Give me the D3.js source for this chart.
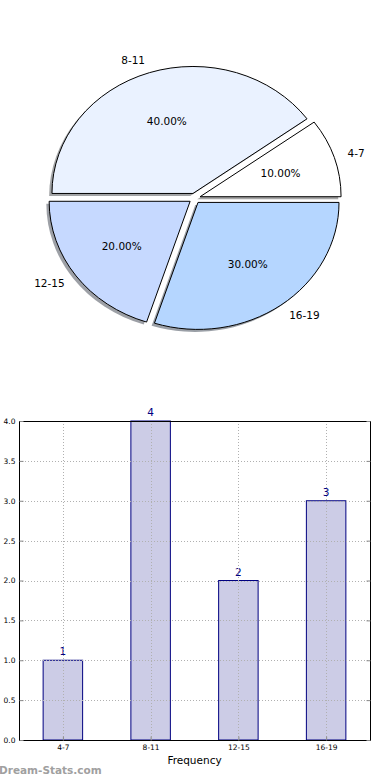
<!DOCTYPE html>
<html>
<head>
<meta charset="utf-8">
<script src="https://cdn.jsdelivr.net/npm/d3@7"></script>
<style>
  html, body { margin: 0; padding: 0; background: #fff; }
  svg { display: block; font-family: "DejaVu Sans", sans-serif; }
</style>
</head>
<body>
<div id="chart"></div>
<script>
// data
var categories = ['4-7', '8-11', '12-15', '16-19'];
var counts = [1, 4, 2, 3];
var sliceColors = ['#ffffff', '#eaf2ff', '#c6d9ff', '#b5d6ff'];
var yTicks = [0, 0.5, 1, 1.5, 2, 2.5, 3, 3.5, 4];

var W = 390, H = 780;
var svg = d3.select('#chart').append('svg').attr('width', W).attr('height', H);

// ---- pie (elliptic, like a non-equal-aspect matplotlib pie) ----
var cx = 194.7, cy = 198.3, rx = 141, ry = 127, explode = 0.04;
var total = d3.sum(counts);

var pie = d3.pie().sort(null).value(function(d){ return d; })
    .startAngle(Math.PI / 2).endAngle(Math.PI / 2 - 2 * Math.PI);
var arcs = pie(counts);
var arc = d3.arc().innerRadius(0).outerRadius(rx);

function mid(d){ return (d.startAngle + d.endAngle) / 2; }
// point on the ellipse (scaled by k) for a d3 angle
function px(a, k){ return k * rx * Math.sin(a); }
function py(a, k){ return -k * ry * Math.cos(a); }

var pieG = svg.append('g').attr('transform', 'translate(' + cx + ',' + cy + ')');

// shadows under everything
pieG.selectAll('path.shadow').data(arcs).enter().append('path')
    .attr('class', 'shadow')
    .attr('transform', function(d){
        var a = mid(d);
        return 'translate(' + (px(a, explode) - 2.8) + ',' + (py(a, explode) + 2.5) + ') scale(1,' + (ry / rx) + ')';
    })
    .attr('d', arc)
    .attr('fill', function(d, i){
        var c = d3.rgb(sliceColors[i]);
        return d3.rgb(c.r * 0.3, c.g * 0.3, c.b * 0.3);
    })
    .attr('fill-opacity', 0.5);

pieG.selectAll('path.slice').data(arcs).enter().append('path')
    .attr('class', 'slice')
    .attr('transform', function(d){
        var a = mid(d);
        return 'translate(' + px(a, explode) + ',' + py(a, explode) + ') scale(1,' + (ry / rx) + ')';
    })
    .attr('d', arc)
    .attr('fill', function(d, i){ return sliceColors[i]; })
    .attr('stroke', '#000')
    .attr('stroke-width', 1)
    .attr('vector-effect', 'non-scaling-stroke');

// category labels
pieG.selectAll('text.lab').data(arcs).enter().append('text')
    .attr('class', 'lab')
    .attr('x', function(d){ var a = mid(d); return px(a, 1.1) + px(a, explode); })
    .attr('y', function(d){ var a = mid(d); return py(a, 1.1) + py(a, explode); })
    .attr('dy', '0.35em')
    .attr('text-anchor', function(d){ return Math.sin(mid(d)) > 0 ? 'start' : 'end'; })
    .attr('font-size', 10.5)
    .text(function(d, i){ return categories[i]; });

// percentages
pieG.selectAll('text.pct').data(arcs).enter().append('text')
    .attr('class', 'pct')
    .attr('x', function(d){ var a = mid(d); return px(a, 0.6) + px(a, explode); })
    .attr('y', function(d){ var a = mid(d); return py(a, 0.6) + py(a, explode); })
    .attr('dy', '0.35em')
    .attr('text-anchor', 'middle')
    .attr('font-size', 10.5)
    .text(function(d){ return (d.value / total * 100).toFixed(2) + '%'; });

// ---- bar chart ----
var bLeft = 19, bRight = 370, bTop = 421, bBottom = 740;
var x = d3.scalePoint().domain(categories).range([bLeft, bRight]).padding(0.5);
var bw = x.step() * 0.45;
var y = d3.scaleLinear().domain([0, 4]).range([bBottom, bTop]);

var bars = svg.append('g');
bars.selectAll('rect').data(counts).enter().append('rect')
    .attr('x', function(d, i){ return x(categories[i]) - bw / 2; })
    .attr('y', function(d){ return y(d); })
    .attr('width', bw)
    .attr('height', function(d){ return bBottom - y(d); })
    .attr('fill', '#ccccE6')
    .attr('stroke', '#000080')
    .attr('stroke-width', 1);

bars.selectAll('text').data(counts).enter().append('text')
    .attr('x', function(d, i){ return x(categories[i]); })
    .attr('y', function(d){ return y(d) - 5; })
    .attr('text-anchor', 'middle')
    .attr('font-size', 10.5)
    .attr('fill', '#000080')
    .text(function(d){ return d; });

// grid (drawn on top, dotted)
var grid = svg.append('g').attr('stroke', '#b0b0b0').attr('stroke-dasharray', '1,2').attr('stroke-width', 1);
grid.selectAll('line.h').data(yTicks).enter().append('line')
    .attr('x1', bLeft).attr('x2', bRight)
    .attr('y1', function(d){ return Math.round(y(d)) + 0.5; })
    .attr('y2', function(d){ return Math.round(y(d)) + 0.5; });
grid.selectAll('line.v').data(categories).enter().append('line')
    .attr('y1', bTop).attr('y2', bBottom)
    .attr('x1', function(d){ return Math.round(x(d)) + 0.5; })
    .attr('x2', function(d){ return Math.round(x(d)) + 0.5; });

// frame
svg.append('rect')
    .attr('x', bLeft + 0.5).attr('y', bTop + 0.5)
    .attr('width', bRight - bLeft).attr('height', bBottom - bTop)
    .attr('fill', 'none').attr('stroke', '#000').attr('stroke-width', 1);

// axes
var yAxis = d3.axisLeft(y).tickValues(yTicks).tickSize(-4).tickPadding(4)
    .tickFormat(d3.format('.1f'));
var yg = svg.append('g').attr('transform', 'translate(' + (bLeft + 0.5) + ',0)').call(yAxis);
var xAxis = d3.axisBottom(x).tickSize(-4).tickPadding(4);
var xg = svg.append('g').attr('transform', 'translate(0,' + (bBottom + 0.5) + ')').call(xAxis);
[yg, xg].forEach(function(g){
    g.select('.domain').remove();
    g.selectAll('line').attr('stroke', '#888');
    g.selectAll('text').attr('font-size', 7.5).attr('font-family', '"DejaVu Sans", sans-serif').attr('fill', '#000');
});
// inward ticks on the right side too
svg.append('g').selectAll('line').data(yTicks).enter().append('line')
    .attr('x1', bRight + 0.5).attr('x2', bRight - 3.5)
    .attr('y1', function(d){ return y(d) + 0.5; })
    .attr('y2', function(d){ return y(d) + 0.5; })
    .attr('stroke', '#888');

svg.append('text')
    .attr('x', (bLeft + bRight) / 2).attr('y', 764)
    .attr('text-anchor', 'middle')
    .attr('font-size', 10.5)
    .text('Frequency');

// watermark
svg.append('text')
    .attr('x', -1).attr('y', 774)
    .attr('font-size', 10.5)
    .attr('font-weight', 'bold')
    .attr('fill', '#a0a0a0')
    .text('Dream-Stats.com');
</script>
</body>
</html>
